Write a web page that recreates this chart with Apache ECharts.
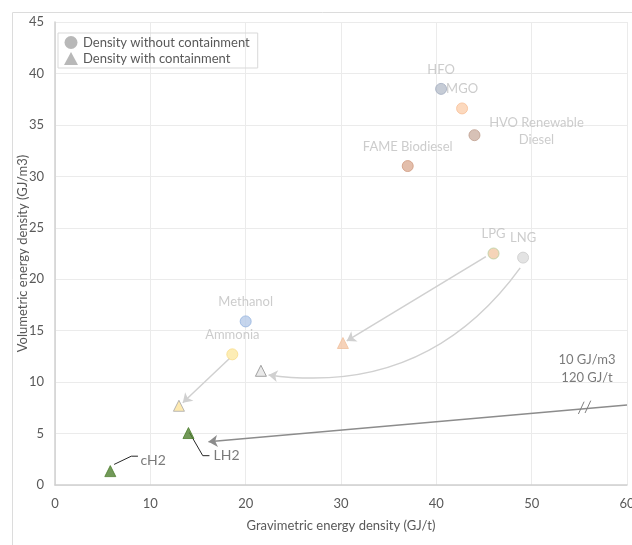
<!DOCTYPE html>
<html>
<head>
<meta charset="utf-8">
<script src="https://cdn.jsdelivr.net/npm/echarts@6/dist/echarts.min.js"></script>
<style>
  html, body { margin: 0; padding: 0; background: #fff; }
  #chart { width: 632px; height: 545px; }
</style>
</head>
<body>
<div id="chart"></div>
<script>
// fuels without containment
const fuelNames = ['HFO', 'MGO', 'HVO Renewable\nDiesel', 'FAME Biodiesel', 'LPG', 'LNG', 'Methanol', 'Ammonia'];
const fuelGrav = [40.5, 42.7, 44.0, 37.0, 46.0, 49.1, 20.0, 18.6];
const fuelVol = [38.5, 36.6, 34.0, 31.0, 22.5, 22.1, 15.9, 12.7];
const fuelColors = ['#b8bfcc', '#fbcfae', '#cdb2a4', '#dcae96', '#f3c9a6', '#dcdcdc', '#b6cbe8', '#fde8a3'];
const fuelBorders = ['#a3adbf', '#f8bf97', '#bf9f8f', '#d09a80', '#b8d0a0', '#cccccc', '#93b3de', '#f7dc8a'];
const fuelLabelPos = ['top', 'top', 'right', 'top', 'top', 'top', 'top', 'top'];

// fuels with containment
const contNames = ['LPG', 'LNG', 'Ammonia', 'LH2', 'cH2'];
const contGrav = [30.2, 21.6, 13.0, 14.0, 5.8];
const contVol = [13.8, 11.1, 7.7, 5.05, 1.35];
const contColors = ['#f4c7a7', '#e3e3e3', '#fde49c', '#4f7f2f', '#4f7f2f'];
const contBorders = ['#f0bf9c', '#8c8c8c', '#a6a6a6', '#4f7f2f', '#4f7f2f'];

// arrows [fromX, fromY, toX, toY, curveness]
const arrows = [
  [45.2, 22.2, 30.6, 14.0, 0],
  [48.8, 21.1, 22.4, 10.7, 0.3],
  [18.3, 12.3, 13.4, 8.0, 0]
];
// LH2 real value is off the chart (120 GJ/t, 10 GJ/m3)
const lh2Arrow = [60, 7.77, 16.1, 4.2];
const breakMarks = [[54.9, 6.9, 55.5, 8.1], [55.6, 7.0, 56.2, 8.2]];
const leaders = [
  { name: 'LH2', pts: [[14.1, 5.1], [15.5, 2.85], [16.2, 2.85]], label: [18.0, 2.85] },
  { name: 'cH2', pts: [[6.2, 2.0], [8.0, 2.8], [8.7, 2.8]], label: [10.3, 2.4] }
];
const offChartNote = '10 GJ/m3\n120 GJ/t';
const notePos = [55.8, 11.3];

const font = 'Lato, "Open Sans", sans-serif';

const chart = echarts.init(document.getElementById('chart'));

const option = {
  animation: false,
  textStyle: { fontFamily: font },
  graphic: [{
    type: 'rect', left: 10, top: 10, silent: true,
    shape: { width: 640, height: 540 },
    style: { fill: 'none', stroke: '#dcdcdc', lineWidth: 1 }
  }],
  grid: { left: 55, right: 5, top: 22, bottom: 60, outerBoundsMode: 'none' },
  legend: {
    left: 58, top: 33, orient: 'vertical', itemGap: 3,
    itemWidth: 14, itemHeight: 13,
    padding: [3, 8, 3, 6],
    borderColor: '#d9d9d9', borderWidth: 1,
    textStyle: { color: '#595959', fontSize: 13, fontFamily: font },
    data: ['Density without containment', 'Density with containment']
  },
  xAxis: {
    type: 'value', min: 0, max: 60, interval: 10,
    name: 'Gravimetric energy density (GJ/t)', nameLocation: 'middle', nameGap: 34,
    nameMoveOverlap: false,
    nameTextStyle: { color: '#595959', fontSize: 13 },
    axisLine: { show: true, lineStyle: { color: '#d0d0d0', width: 1.5 } },
    axisTick: { show: false },
    axisLabel: { color: '#595959', fontSize: 13, margin: 12 },
    splitLine: { lineStyle: { color: '#ebebeb' } }
  },
  yAxis: {
    type: 'value', min: 0, max: 45, interval: 5,
    name: 'Volumetric energy density (GJ/m3)', nameLocation: 'middle', nameGap: 26,
    nameMoveOverlap: false,
    nameTextStyle: { color: '#595959', fontSize: 13 },
    axisLine: { show: true, lineStyle: { color: '#d0d0d0', width: 1.5 } },
    axisTick: { show: false },
    axisLabel: { color: '#595959', fontSize: 13, margin: 11 },
    splitLine: { lineStyle: { color: '#ebebeb' } }
  },
  series: [
    {
      name: 'arrows', type: 'lines', coordinateSystem: 'cartesian2d', z: 1,
      symbol: ['none', 'arrow'], symbolSize: 9,
      lineStyle: { color: '#d0d0d0', width: 1.5, opacity: 1 },
      data: arrows.map(a => ({
        coords: [[a[0], a[1]], [a[2], a[3]]],
        lineStyle: { curveness: a[4] }
      }))
    },
    {
      name: 'lh2arrow', type: 'lines', coordinateSystem: 'cartesian2d', z: 1,
      symbol: ['none', 'arrow'], symbolSize: 9,
      lineStyle: { color: '#8c8c8c', width: 1.5, opacity: 1 },
      data: [{ coords: [[lh2Arrow[0], lh2Arrow[1]], [lh2Arrow[2], lh2Arrow[3]]] }]
    },
    {
      name: 'breaks', type: 'lines', coordinateSystem: 'cartesian2d', z: 1,
      symbol: 'none',
      lineStyle: { color: '#7f7f7f', width: 1, opacity: 1 },
      data: breakMarks.map(b => ({ coords: [[b[0], b[1]], [b[2], b[3]]] }))
    },
    {
      name: 'leaders', type: 'lines', coordinateSystem: 'cartesian2d', polyline: true, z: 1,
      symbol: 'none',
      lineStyle: { color: '#262626', width: 1, opacity: 1 },
      data: leaders.map(l => ({ coords: l.pts }))
    },
    {
      name: 'Density without containment', type: 'scatter', symbol: 'circle', symbolSize: 11, z: 3,
      itemStyle: { color: '#a6a6a6' },
      label: { show: true, formatter: p => p.name, color: '#bfbfbf', fontSize: 13, distance: 5, lineHeight: 17 },
      data: fuelNames.map((n, i) => ({
        name: n, value: [fuelGrav[i], fuelVol[i]],
        itemStyle: { color: fuelColors[i], borderColor: fuelBorders[i], borderWidth: 1 },
        label: fuelLabelPos[i] === 'right'
          ? { position: 'right', distance: 8, align: 'center', offset: [48, -4] }
          : { position: 'top' }
      }))
    },
    {
      name: 'Density with containment', type: 'scatter', symbol: 'triangle', symbolSize: 11, z: 3,
      itemStyle: { color: '#a6a6a6' },
      data: contNames.map((n, i) => ({
        name: n, value: [contGrav[i], contVol[i]],
        itemStyle: { color: contColors[i], borderColor: contBorders[i], borderWidth: 1 }
      }))
    },
    {
      name: 'notes', type: 'scatter', symbolSize: 0, z: 4, silent: true,
      label: {
        show: true, position: 'inside', formatter: p => p.name,
        color: '#595959', fontSize: 13, lineHeight: 18
      },
      data: leaders.map(l => ({ name: l.name, value: l.label, label: { fontSize: 14 } }))
        .concat([{ name: offChartNote, value: notePos }])
    }
  ]
};

chart.setOption(option);
</script>
</body>
</html>
